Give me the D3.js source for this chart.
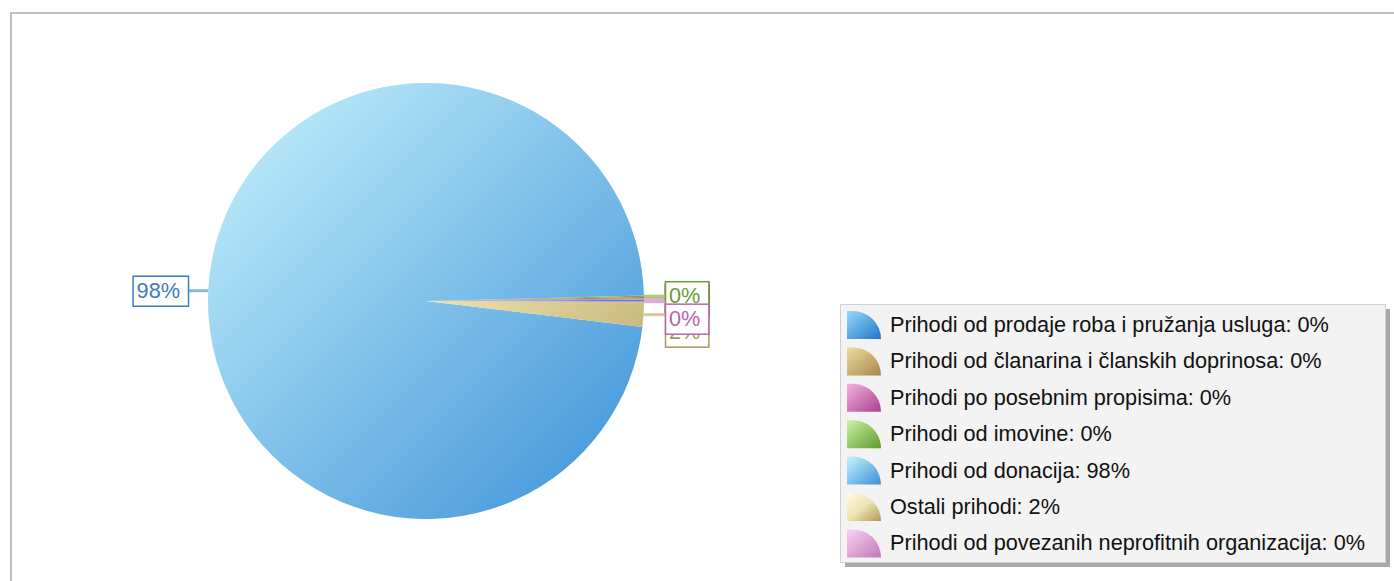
<!DOCTYPE html>
<html><head><meta charset="utf-8">
<script src="https://cdn.jsdelivr.net/npm/d3@7"></script>
<style>
html,body{margin:0;padding:0;background:#fff;overflow:hidden}
svg{display:block}
text{font-family:"Liberation Sans",Arial,sans-serif}
</style></head>
<body>
<svg id="chart" width="1394" height="581"></svg>
<script>
const categories = [
  "Prihodi od prodaje roba i pružanja usluga",
  "Prihodi od članarina i članskih doprinosa",
  "Prihodi po posebnim propisima",
  "Prihodi od imovine",
  "Prihodi od donacija",
  "Ostali prihodi",
  "Prihodi od povezanih neprofitnih organizacija"
];
const values = [0.1, 0.1, 0.1, 0.1, 97.7, 1.8, 0.1];
const lightColors = ["#9ad8f8", "#eedc9e", "#f6b0e0", "#ccf2a4", "#c8f4fc", "#fffbe8", "#fad2f4"];
const midColors   = [null, null, null, null, null, "#ede3b0", null];
const darkColors  = ["#1e76ca", "#a6884a", "#a8428e", "#5c9c2c", "#398fd8", "#ae985a", "#c078b8"];
const labelColors = ["#2a78c8", "#a08848", "#b0569e", "#6c9c34", "#3c7cc4", "#a89a5c", "#b866ac"];
const leaderColors = ["#8cc0e8", "#d8c898", "#e0a0d0", "#a8cc80", "#8cb8e0", "#d8ca98", "#e0a8d8"];

const svg = d3.select("#chart");
const W = 1394, H = 581;
const FS = 21.7;

// outer frame
svg.append("rect").attr("x", 11).attr("y", 13).attr("width", W + 20).attr("height", H + 20)
  .attr("fill", "#fff").attr("stroke", "#c0c0c0").attr("stroke-width", 2);

const cx = 426, cy = 301, r = 218;
const total = d3.sum(values);
const pct = v => Math.round(v / total * 100) + "%";

const defs = svg.append("defs");
function addStops(g, i) {
  g.append("stop").attr("offset", 0).attr("stop-color", lightColors[i]);
  if (midColors[i]) g.append("stop").attr("offset", 0.5).attr("stop-color", midColors[i]);
  g.append("stop").attr("offset", 1).attr("stop-color", darkColors[i]);
}
categories.forEach((c, i) => {
  const g = defs.append("linearGradient").attr("id", "pg" + i)
    .attr("gradientUnits", "userSpaceOnUse")
    .attr("x1", -r).attr("y1", -r).attr("x2", r).attr("y2", r);
  addStops(g, i);
  const lg = defs.append("linearGradient").attr("id", "lg" + i)
    .attr("x1", 0).attr("y1", 0).attr("x2", 1).attr("y2", 1);
  addStops(lg, i);
});

const pie = d3.pie().sort(null).value(d => d)
  .startAngle(Math.PI / 2).endAngle(Math.PI / 2 - 2 * Math.PI);
const arcs = pie(values);
const arc = d3.arc().innerRadius(0).outerRadius(r);

const pg = svg.append("g").attr("transform", `translate(${cx},${cy})`);
pg.selectAll("path").data(arcs).join("path")
  .attr("d", arc)
  .attr("fill", (d, i) => `url(#pg${i})`);

// labels
const lblG = svg.append("g");
arcs.forEach((d, i) => {
  const mid = (d.startAngle + d.endAngle) / 2; // d3 angle, clockwise from 12 o'clock
  const px = cx + r * Math.sin(mid);
  const py = cy - r * Math.cos(mid);
  const right = Math.sin(mid) >= 0;
  const txt = pct(d.value);
  const g = lblG.append("g");
  const t = g.append("text").text(txt).attr("font-size", FS).attr("fill", labelColors[i]);
  const tw = t.node().getComputedTextLength();
  const bw = tw + 12, bh = 30;
  const bx = right ? cx + r + 21 : cx - r - 20 - bw;
  const by = py > cy ? py + 2 : py - bh / 2;
  g.insert("line", "text")
    .attr("x1", px).attr("y1", py).attr("x2", right ? bx : bx + bw).attr("y2", py)
    .attr("stroke", leaderColors[i]).attr("stroke-width", 3);
  g.insert("rect", "text")
    .attr("x", bx + 0.5).attr("y", by + 0.5).attr("width", bw).attr("height", bh)
    .attr("fill", "#fff").attr("stroke", labelColors[i]).attr("stroke-width", 1.5);
  t.attr("x", bx + 4).attr("y", by + 22);
});

// legend
const lx = 840, ly = 304, lw = 545, lh = 258, rowH = 36.4;
const leg = svg.append("g");
leg.append("rect").attr("x", lx + 5).attr("y", ly + 5).attr("width", lw).attr("height", lh)
  .attr("fill", "#a8a8a8");
leg.append("rect").attr("x", lx + 0.5).attr("y", ly + 0.5).attr("width", lw).attr("height", lh)
  .attr("fill", "#f3f3f3").attr("stroke", "#d0d0d0").attr("stroke-width", 1);
categories.forEach((c, i) => {
  const yc = ly + 20 + i * rowH;
  const x0 = lx + 7, x1 = lx + 41, y0 = yc - 13, y1 = yc + 15;
  leg.append("path")
    .attr("d", `M${x0},${y1} L${x0},${y0} L${x0 + 6},${y0} A${x1 - x0 - 6},${y1 - y0} 0 0 1 ${x1},${y1} Z`)
    .attr("fill", `url(#lg${i})`);
  leg.append("text").attr("x", lx + 50).attr("y", yc + 8)
    .attr("font-size", FS).attr("fill", "#111")
    .text(`${c}: ${pct(values[i])}`);
});
</script>
</body></html>
